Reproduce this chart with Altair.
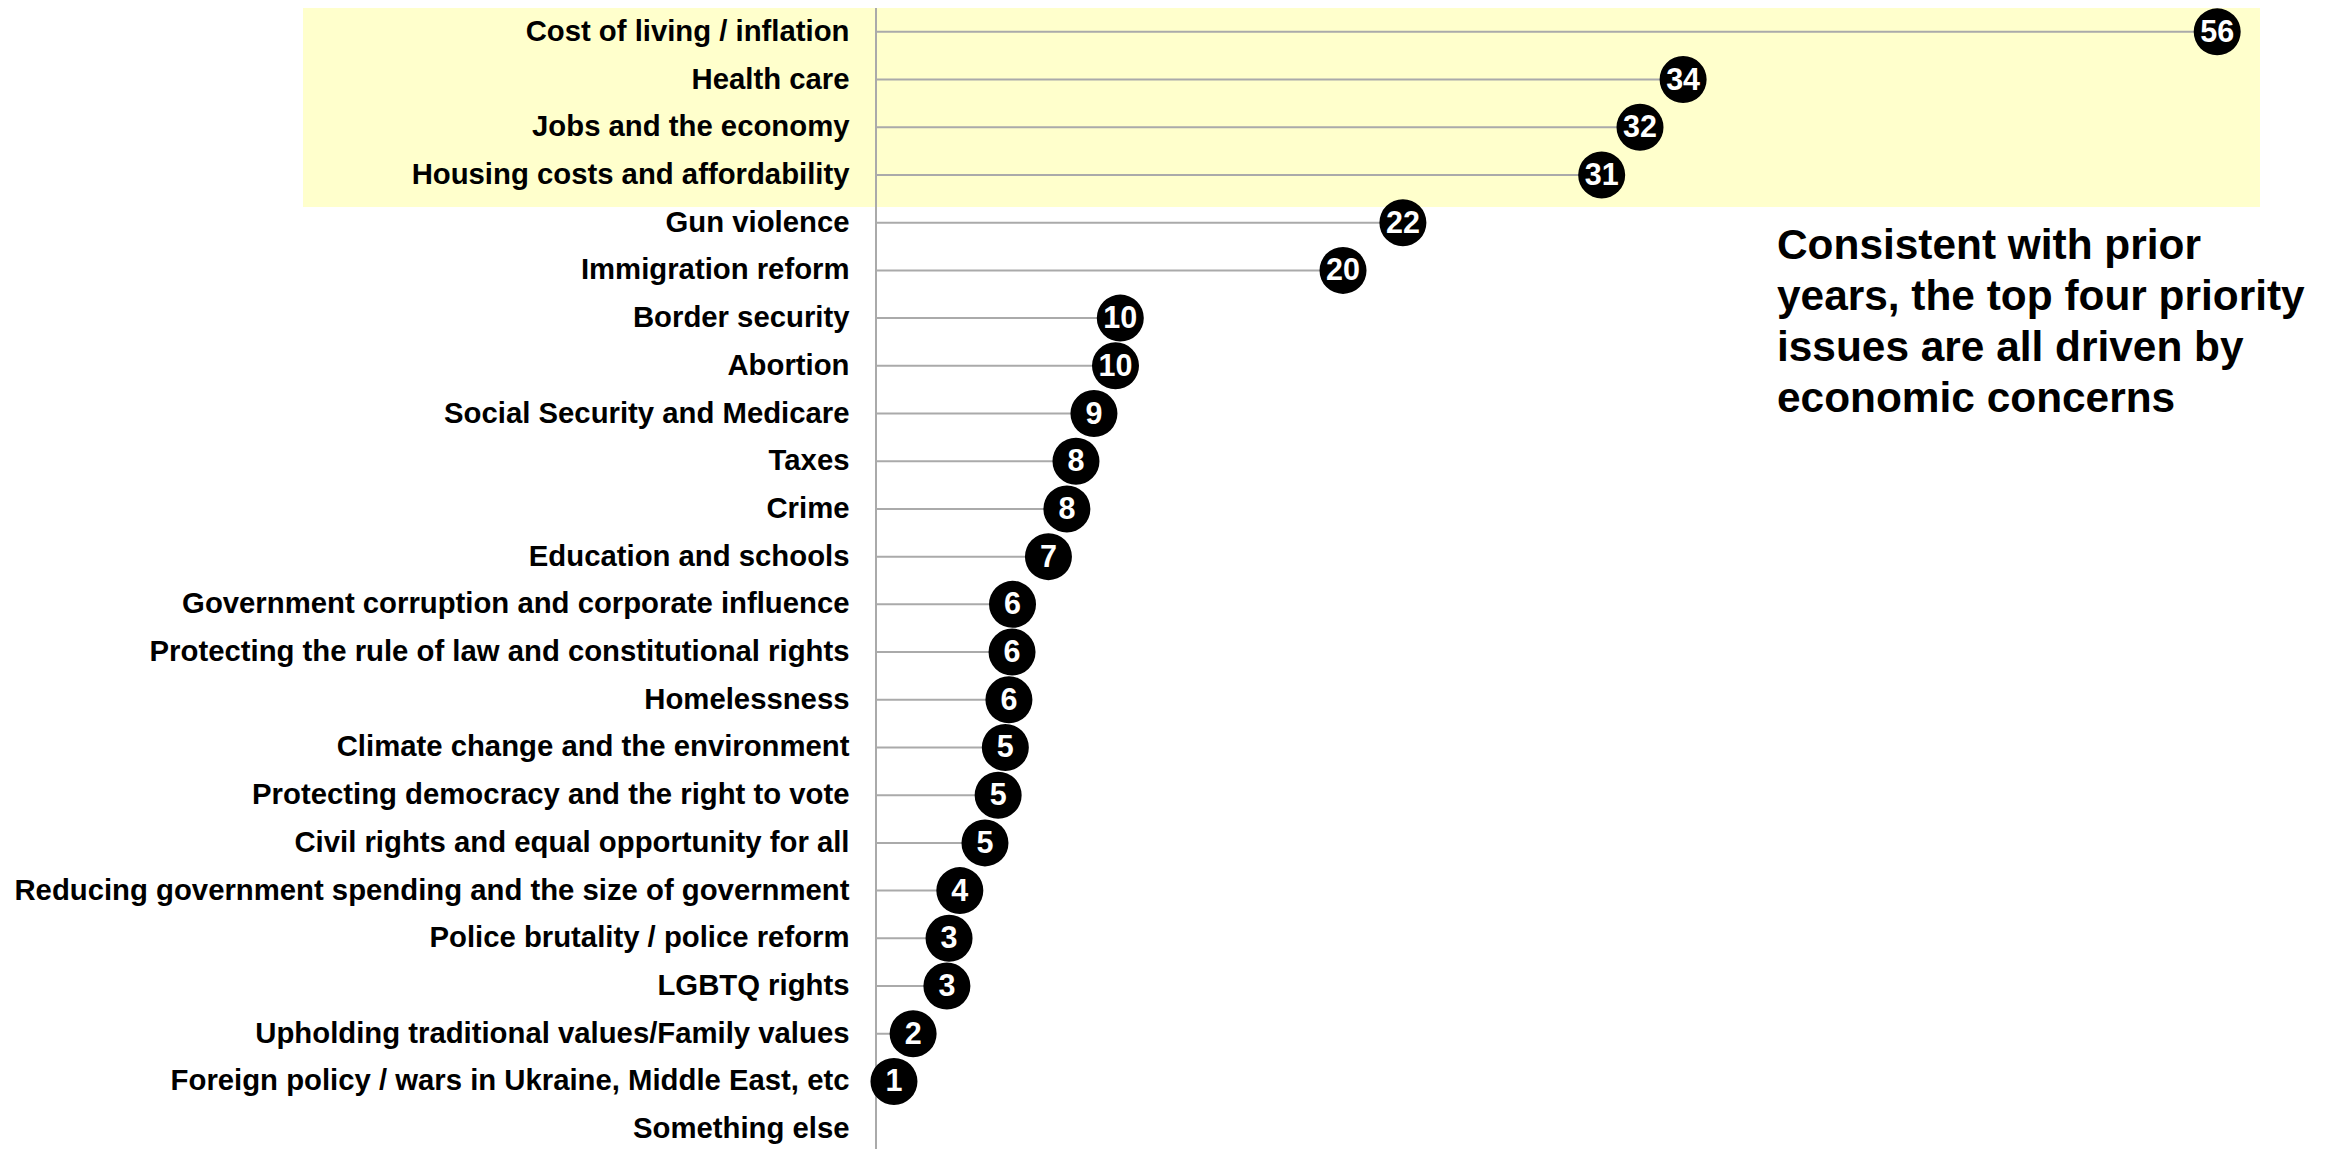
import altair as alt
import pandas as pd

categories = [
    "Cost of living / inflation",
    "Health care",
    "Jobs and the economy",
    "Housing costs and affordability",
    "Gun violence",
    "Immigration reform",
    "Border security",
    "Abortion",
    "Social Security and Medicare",
    "Taxes",
    "Crime",
    "Education and schools",
    "Government corruption and corporate influence",
    "Protecting the rule of law and constitutional rights",
    "Homelessness",
    "Climate change and the environment",
    "Protecting democracy and the right to vote",
    "Civil rights and equal opportunity for all",
    "Reducing government spending and the size of government",
    "Police brutality / police reform",
    "LGBTQ rights",
    "Upholding traditional values/Family values",
    "Foreign policy / wars in Ukraine, Middle East, etc",
    "Something else",
]
# dot positions
values = [56.0, 33.7, 31.9, 30.3, 22.0, 19.5, 10.2, 10.0, 9.1, 8.35, 7.97, 7.2,
          5.7, 5.68, 5.55, 5.4, 5.1, 4.55, 3.5, 3.05, 2.96, 1.55, 0.75, None]
# numbers printed in the dots
labels = ["56", "34", "32", "31", "22", "20", "10", "10", "9", "8", "8", "7",
          "6", "6", "6", "5", "5", "5", "4", "3", "3", "2", "1", None]
highlighted = categories[:4]
annotation = ["Consistent with prior", "years, the top four priority",
              "issues are all driven by", "economic concerns"]

df = pd.DataFrame({"category": categories, "value": values, "label": labels})
note_df = pd.DataFrame({"t": ["\n".join(annotation)]})

FONT = "Liberation Sans"
W, H = 1437, 1145

y_enc = alt.Y(
    "category:N",
    sort=categories,
    scale=alt.Scale(domain=categories, paddingInner=0, paddingOuter=0),
    axis=alt.Axis(
        title=None, domain=False, ticks=False, labelPadding=27,
        labelFontSize=29.3, labelFont=FONT, labelFontWeight="bold",
        labelColor="black", labelLimit=0, zindex=1, grid=False,
    ),
)
x_scale = alt.Scale(domain=[0, 60], nice=False, zero=True)

base = alt.Chart(df)

box = base.transform_filter(
    alt.FieldOneOfPredicate(field="category", oneOf=highlighted)
).mark_bar(color="#ffffcc", size=64).encode(
    y=y_enc, x=alt.value(-573), x2=alt.value(1384)
)

axis_line = base.mark_rule(color="#aaaaaa", strokeWidth=2).encode(
    x=alt.X("zero:Q", scale=x_scale, axis=None),
    y=alt.value(0), y2=alt.value(H),
).transform_calculate(zero="0")

valid = base.transform_filter("isValid(datum.value)")

stems = valid.mark_rule(color="#aaaaaa", strokeWidth=2).encode(
    y=y_enc,
    x=alt.X("value:Q", scale=x_scale, axis=None),
    x2=alt.datum(0),
)

dots = valid.mark_circle(size=2209, color="black", opacity=1).encode(
    y=y_enc, x=alt.X("value:Q", scale=x_scale, axis=None)
)

nums = valid.mark_text(
    color="white", font=FONT, fontWeight="bold", fontSize=30.5,
    align="center", baseline="middle", dy=1,
).encode(
    y=y_enc, x=alt.X("value:Q", scale=x_scale, axis=None), text="label:N"
)

note = alt.Chart(note_df).mark_text(
    font=FONT, fontWeight="bold", fontSize=42.4, lineBreak="\n",
    lineHeight=51, align="left", baseline="alphabetic", color="black",
).encode(x=alt.value(901), y=alt.value(251), text="t:N")

chart = alt.layer(box, axis_line, stems, dots, nums, note).properties(
    width=W, height=H,
    autosize=alt.AutoSizeParams(type="none"),
    padding={"left": 868, "top": 0, "right": 0, "bottom": 0},
).configure_view(strokeWidth=0)

chart.save("out.html", embed_options={"renderer": "svg", "actions": False})
